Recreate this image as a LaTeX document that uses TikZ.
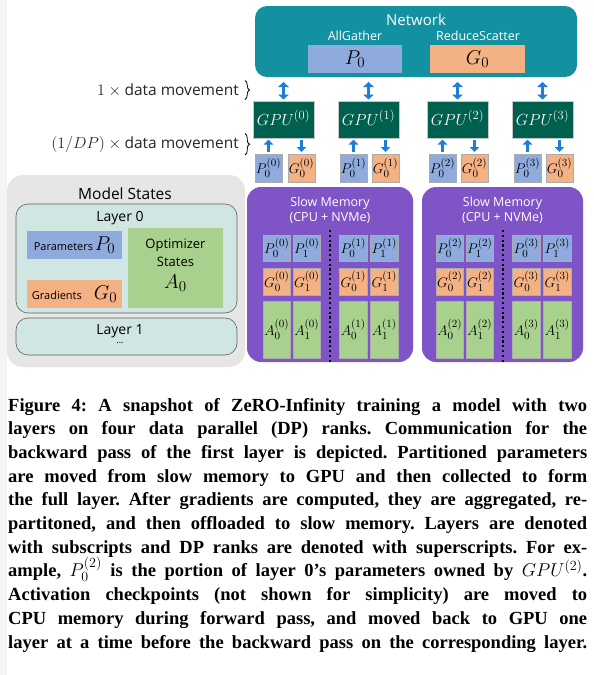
\RequirePackage{fix-cm}
\documentclass[tikz,border=0pt]{standalone}
\usepackage{fontspec}
\setmainfont{Liberation Serif}
\newfontfamily\dsf{Open Sans}
\usetikzlibrary{arrows.meta,decorations.pathreplacing}
\definecolor{netc}{RGB}{20,145,160}
\definecolor{gpuc}{RGB}{0,96,80}
\definecolor{pc}{RGB}{143,170,220}
\definecolor{gc}{RGB}{244,177,131}
\definecolor{ac}{RGB}{169,209,142}
\definecolor{memc}{RGB}{126,84,198}
\definecolor{msc}{RGB}{231,230,230}
\definecolor{layc}{RGB}{208,230,227}
\definecolor{arrc}{RGB}{30,125,215}
\definecolor{stripc}{RGB}{244,244,244}
\newcommand\fsz[1]{\fontsize{#1}{#1}\selectfont}
\newcommand\bx[7]{\node[#6, anchor=north west, inner sep=0pt, outer sep=0pt, minimum width=#4pt, minimum height=#5pt] (#1) at (#2,#3) {#7};}
% math symbol with larger scripts: base, sub, sup, base size, script size
\newcommand\mth[5]{{\fsz{#4}$#1_{\mbox{\fsz{#5}$#2$}}^{\mbox{\fsz{#5}$#3$}}$}}
\newcommand\mtb[4]{{\fsz{#3}$#1_{\mbox{\fsz{#4}$#2$}}$}}
\newsavebox\jbox
\newcommand\jline[1]{\sbox\jbox{#1}\ifdim\wd\jbox>579pt\resizebox{579pt}{\height}{\usebox\jbox}\else\makebox[579pt][s]{#1}\fi}
\begin{document}
\begin{tikzpicture}[x=1pt,y=-1pt,
  netbox/.style={fill=netc, rounded corners=12pt},
  gpubox/.style={fill=gpuc, draw=gray!45, line width=0.4pt, text=white},
  pbox/.style={fill=pc, draw=gray!65, line width=0.3pt},
  gbox/.style={fill=gc, draw=gray!65, line width=0.3pt},
  abox/.style={fill=ac, draw=gray!65, line width=0.3pt},
  membox/.style={fill=memc, rounded corners=14pt},
  msbox/.style={fill=msc, rounded corners=16pt},
  laybox/.style={fill=layc, draw=gray!75!black, line width=0.6pt, rounded corners=12pt},
  wtxt/.style={text=white, inner sep=0pt},
  btxt/.style={text=black, inner sep=0pt},
  dbl/.style={arrc, line width=3.6pt, {Triangle[width=10.5pt,length=5pt]}-{Triangle[width=10.5pt,length=5pt]}},
  sgl/.style={arrc, line width=3.6pt, -{Triangle[width=9.5pt,length=5pt]}},
  dotline/.style={black, line width=2.2pt, dash pattern=on 2.2pt off 2.6pt},
  capt/.style={anchor=base west, inner sep=0pt, font=\fontsize{18.5}{20}\selectfont\bfseries\frenchspacing}
]
\useasboundingbox (0,0) rectangle (594,675);
\fill[white] (0,0) rectangle (594,675);
\fill[stripc] (0,0) rectangle (7,675);

% Network
\bx{net}{255}{6}{322}{71}{netbox}{}
\node[wtxt, font=\dsf\fsz{15}] (nettitle) at (416,20) {Network};
\node[wtxt, font=\dsf\fsz{12.5}] (ag) at (355,35.5) {AllGather};
\node[wtxt, font=\dsf\fsz{12.5}] (rs) at (478,35.5) {ReduceScatter};
\bx{np}{308}{45}{94}{28}{fill=pc}{\mtb{P}{0}{20}{15}}
\bx{ng}{430}{45}{95}{28}{fill=gc}{\mtb{G}{0}{20}{15}}

% GPUs
\bx{gpu0}{253}{101}{61}{37}{gpubox}{\mth{GPU}{}{(0)}{16}{12.5}}
\bx{gpu1}{338}{101}{61}{37}{gpubox}{\mth{GPU}{}{(1)}{16}{12.5}}
\bx{gpu2}{427}{101}{61}{37}{gpubox}{\mth{GPU}{}{(2)}{16}{12.5}}
\bx{gpu3}{512}{101}{61}{37}{gpubox}{\mth{GPU}{}{(3)}{16}{12.5}}

\bx{p0}{255}{154}{27}{28}{pbox}{\mth{P}{0}{(0)}{14}{11}}
\bx{g0}{288}{154}{27}{28}{gbox}{\mth{G}{0}{(0)}{14}{11}}
\bx{p1}{340}{154}{27}{28}{pbox}{\mth{P}{0}{(1)}{14}{11}}
\bx{g1}{372}{154}{27}{28}{gbox}{\mth{G}{0}{(1)}{14}{11}}
\bx{p2}{429}{154}{27}{28}{pbox}{\mth{P}{0}{(2)}{14}{11}}
\bx{g2}{461}{154}{27}{28}{gbox}{\mth{G}{0}{(2)}{14}{11}}
\bx{p3}{514}{154}{27}{28}{pbox}{\mth{P}{0}{(3)}{14}{11}}
\bx{g3}{546}{154}{27}{28}{gbox}{\mth{G}{0}{(3)}{14}{11}}

\foreach \i in {0,1,2,3}{
  \draw[dbl, shorten <=5pt, shorten >=1.5pt] (net.south -| gpu\i.north) -- (gpu\i.north);
  \draw[sgl, shorten <=2pt, shorten >=1.5pt] (p\i.north) -- (p\i.north |- gpu\i.south);
  \draw[sgl, shorten <=1.5pt, shorten >=2pt] (g\i.north |- gpu\i.south) -- (g\i.north);
}

% data movement labels
\node[btxt, anchor=east, font=\dsf\fsz{15.5}, text=black!85] (lab1) at (239,90) {{\fsz{16}$1\times{}$}data movement};
\node[btxt, anchor=east, font=\dsf\fsz{15.5}, text=black!85] (lab2) at (239,144) {{\fsz{16}$(1/DP)\times{}$}data movement};
\draw[decorate, decoration={brace, amplitude=4.5pt}, line width=0.8pt] (245,80.5) -- (245,99.5);
\draw[decorate, decoration={brace, amplitude=4.5pt}, line width=0.8pt] (245,133.5) -- (245,155);

% Model states
\bx{ms}{7}{175}{238}{192}{msbox}{}
\node[btxt, font=\dsf\fsz{15.5}] (mst) at (125,194) {Model States};
\bx{l0}{16}{204}{221}{109}{laybox}{}
\node[btxt, font=\dsf\fsz{14}] (l0t) at (120,218) {Layer 0};
\bx{par}{27}{231}{95}{28}{fill=pc}{{\dsf\fsz{11}Parameters}\,\mtb{P}{0}{20}{15}}
\bx{grad}{27}{280}{95}{28}{fill=gc}{{\dsf\fsz{11}Gradients}\hspace{12pt}\mtb{G}{0}{20}{15}}
\bx{opt}{128}{228}{95}{80}{fill=ac}{}
\node[btxt, font=\dsf\fsz{13}] (optt) at (175.5,245) {Optimizer};
\node[btxt, font=\dsf\fsz{13}] (opts) at (175.5,262) {States};
\node[btxt] (opta) at (175.5,283) {\mtb{A}{0}{20}{15}};
\bx{l1}{16}{318}{221}{37}{laybox}{}
\node[btxt, font=\dsf\fsz{14}] (l1t) at (120,331) {Layer 1};
\node[btxt, font=\dsf\fsz{9}] (l1d) at (120,343) {...};

% Slow memory
\bx{mem1}{247}{187}{166}{175}{membox}{}
\bx{mem2}{422}{187}{161}{175}{membox}{}
\node[wtxt, font=\dsf\fsz{12.5}] (m1t) at (330,203) {Slow Memory};
\node[wtxt, font=\dsf\fsz{12.5}] (m1s) at (330,218) {(CPU + NVMe)};
\node[wtxt, font=\dsf\fsz{12.5}] (m2t) at (502.5,203) {Slow Memory};
\node[wtxt, font=\dsf\fsz{12.5}] (m2s) at (502.5,218) {(CPU + NVMe)};
\foreach \x/\l/\r in {263/0/0,293/1/0,339.5/0/1,370.5/1/1,436/0/2,466/1/2,512.5/0/3,543.5/1/3}{
  \bx{mp\l\r}{\x}{235}{27.5}{26}{pbox}{\mth{P}{\l}{(\r)}{14}{11}}
  \bx{mg\l\r}{\x}{268}{27.5}{27}{gbox}{\mth{G}{\l}{(\r)}{14}{11}}
  \bx{ma\l\r}{\x}{301}{27.5}{57}{abox}{\mth{A}{\l}{(\r)}{14}{11}}
}
\draw[dotline] (330,230) -- (330,364);
\draw[dotline] (503,230) -- (503,364);

% Caption
\node[capt] (c1) at (8,411) {\jline{Figure 4: A snapshot of ZeRO-Infinity training a model with two}};
\node[capt] (c2) at (8,434.7) {\jline{layers on four data parallel (DP) ranks. Communication for the}};
\node[capt] (c3) at (8,458.4) {\jline{backward pass of the first layer is depicted. Partitioned parameters}};
\node[capt] (c4) at (8,482.1) {\jline{are moved from slow memory to GPU and then collected to form}};
\node[capt] (c5) at (8,505.8) {\jline{the full layer. After gradients are computed, they are aggregated, re-}};
\node[capt] (c6) at (8,529.5) {\jline{partitoned, and then offloaded to slow memory. Layers are denoted}};
\node[capt] (c7) at (8,553.2) {\jline{with subscripts and DP ranks are denoted with superscripts. For ex-}};
\node[capt] (c8) at (8,576.9) {\jline{ample, \mth{P}{0}{(2)}{18.5}{14} is the portion of layer 0's parameters owned by \mth{GPU}{}{(2)}{18.5}{14}.}};
\node[capt] (c9) at (8,600.6) {\jline{Activation checkpoints (not shown for simplicity) are moved to}};
\node[capt] (c10) at (8,624.3) {\jline{CPU memory during forward pass, and moved back to GPU one}};
\node[capt] (c11) at (8,648) {\jline{layer at a time before the backward pass on the corresponding layer.}};
\end{tikzpicture}
\end{document}
